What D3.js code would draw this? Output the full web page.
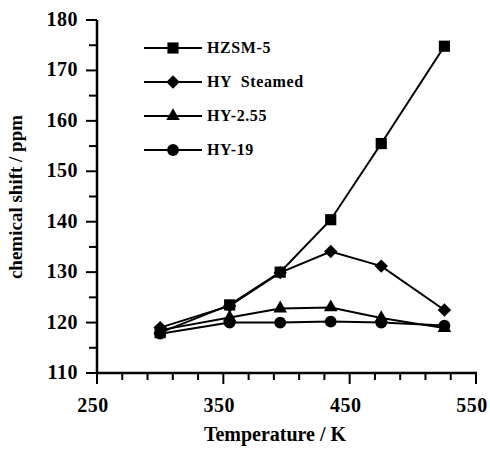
<!DOCTYPE html>
<html>
<head>
<meta charset="utf-8">
<script src="https://cdn.jsdelivr.net/npm/d3@7"></script>
<style>
  body { margin: 0; background: #fff; }
  text { font-family: "Liberation Serif", "Times New Roman", serif; font-weight: bold; fill: #000; }
</style>
</head>
<body>
<div id="chart"></div>
<script>
// temperatures (K) shared by every series
const temps = [300, 355, 395, 435, 475, 525]

const hzsm5 = [118.0, 123.5, 130.0, 140.4, 155.5, 174.8]
const hySteamed = [119.0, 123.3, 129.9, 134.1, 131.2, 122.5]
const hy255 = [118.5, 121.0, 122.8, 123.0, 120.9, 118.9]
const hy19 = [117.8, 120.0, 120.0, 120.2, 120.0, 119.4]

const seriesNames = ["HZSM-5", "HY  Steamed", "HY-2.55", "HY-19"]
const xTicks = [250, 350, 450, 550]
const yTicks = [110, 120, 130, 140, 150, 160, 170, 180]

// diamond = square turned 45 degrees
const series = [
    { name: seriesNames[0], values: hzsm5, symbol: d3.symbolSquare, size: 125, rot: 0 },
    { name: seriesNames[1], values: hySteamed, symbol: d3.symbolSquare, size: 90, rot: 45 },
    { name: seriesNames[2], values: hy255, symbol: d3.symbolTriangle, size: 80, rot: 0 },
    { name: seriesNames[3], values: hy19, symbol: d3.symbolCircle, size: 110, rot: 0 }
]

const width = 490, height = 452
const svg = d3.select("#chart").append("svg")
    .attr("width", width)
    .attr("height", height)

const x = d3.scaleLinear().domain([250, 550]).range([97, 476])
const y = d3.scaleLinear().domain([110, 180]).range([373, 20])

// minor ticks: every 20 K on x, every 5 ppm on y
const xMinor = d3.range(250, 551, 20)
const yMinor = d3.range(110, 181, 5)

// x axis
const gx = svg.append("g").attr("transform", `translate(0,${y(110)})`)
gx.append("line").attr("x1", x(250) - 1).attr("x2", x(550) + 1)
    .attr("stroke", "#000").attr("stroke-width", 2.5)
gx.selectAll(".minor").data(xMinor).join("line")
    .attr("x1", d => x(d)).attr("x2", d => x(d))
    .attr("y1", 0).attr("y2", d => xTicks.includes(d) ? 11 : 7)
    .attr("stroke", "#000").attr("stroke-width", 2)
gx.selectAll(".lbl").data(xTicks).join("text")
    .attr("x", d => x(d) - 4).attr("y", 39)
    .attr("text-anchor", "middle")
    .style("font-size", "20px")
    .style("letter-spacing", "0.5px")
    .text(d => d)

// y axis
const gy = svg.append("g").attr("transform", `translate(${x(250)},0)`)
gy.append("line").attr("y1", y(180)).attr("y2", y(110) + 1)
    .attr("stroke", "#000").attr("stroke-width", 2.5)
gy.selectAll(".minor").data(yMinor).join("line")
    .attr("y1", d => y(d)).attr("y2", d => y(d))
    .attr("x1", 0).attr("x2", d => d % 10 === 0 ? -11 : -8)
    .attr("stroke", "#000").attr("stroke-width", 2)
gy.selectAll(".lbl").data(yTicks).join("text")
    .attr("x", -19).attr("y", d => y(d) + 6)
    .attr("text-anchor", "end")
    .style("font-size", "20px")
    .style("letter-spacing", "0.5px")
    .text(d => d)

// axis titles
svg.append("text")
    .attr("x", 275).attr("y", 441)
    .attr("text-anchor", "middle")
    .style("font-size", "20px")
    .text("Temperature / K")

svg.append("text")
    .attr("transform", `translate(22,197) rotate(-90)`)
    .attr("text-anchor", "middle")
    .style("font-size", "19px")
    .text("chemical shift / ppm")

// series lines and markers
const line = d3.line()
    .x((d, i) => x(temps[i]))
    .y(d => y(d))

series.forEach(s => {
    svg.append("path")
        .datum(s.values)
        .attr("fill", "none")
        .attr("stroke", "#000")
        .attr("stroke-width", 2)
        .attr("d", line)

    svg.selectAll(null).data(s.values).join("path")
        .attr("transform", (d, i) => `translate(${x(temps[i])},${y(d)}) rotate(${s.rot})`)
        .attr("d", d3.symbol().type(s.symbol).size(s.size))
        .attr("fill", "#000")
})

// legend
const legend = svg.append("g")
series.forEach((s, i) => {
    const ly = 48 + i * 34
    legend.append("line")
        .attr("x1", 144).attr("x2", 202)
        .attr("y1", ly).attr("y2", ly)
        .attr("stroke", "#000").attr("stroke-width", 2)
    legend.append("path")
        .attr("transform", `translate(173,${ly}) rotate(${s.rot})`)
        .attr("d", d3.symbol().type(s.symbol).size(s.size))
        .attr("fill", "#000")
    legend.append("text")
        .attr("x", 207).attr("y", ly + 5)
        .style("font-size", "16px")
        .style("letter-spacing", "0.6px")
        .style("white-space", "pre")
        .attr("xml:space", "preserve")
        .text(s.name)
})
</script>
</body>
</html>
